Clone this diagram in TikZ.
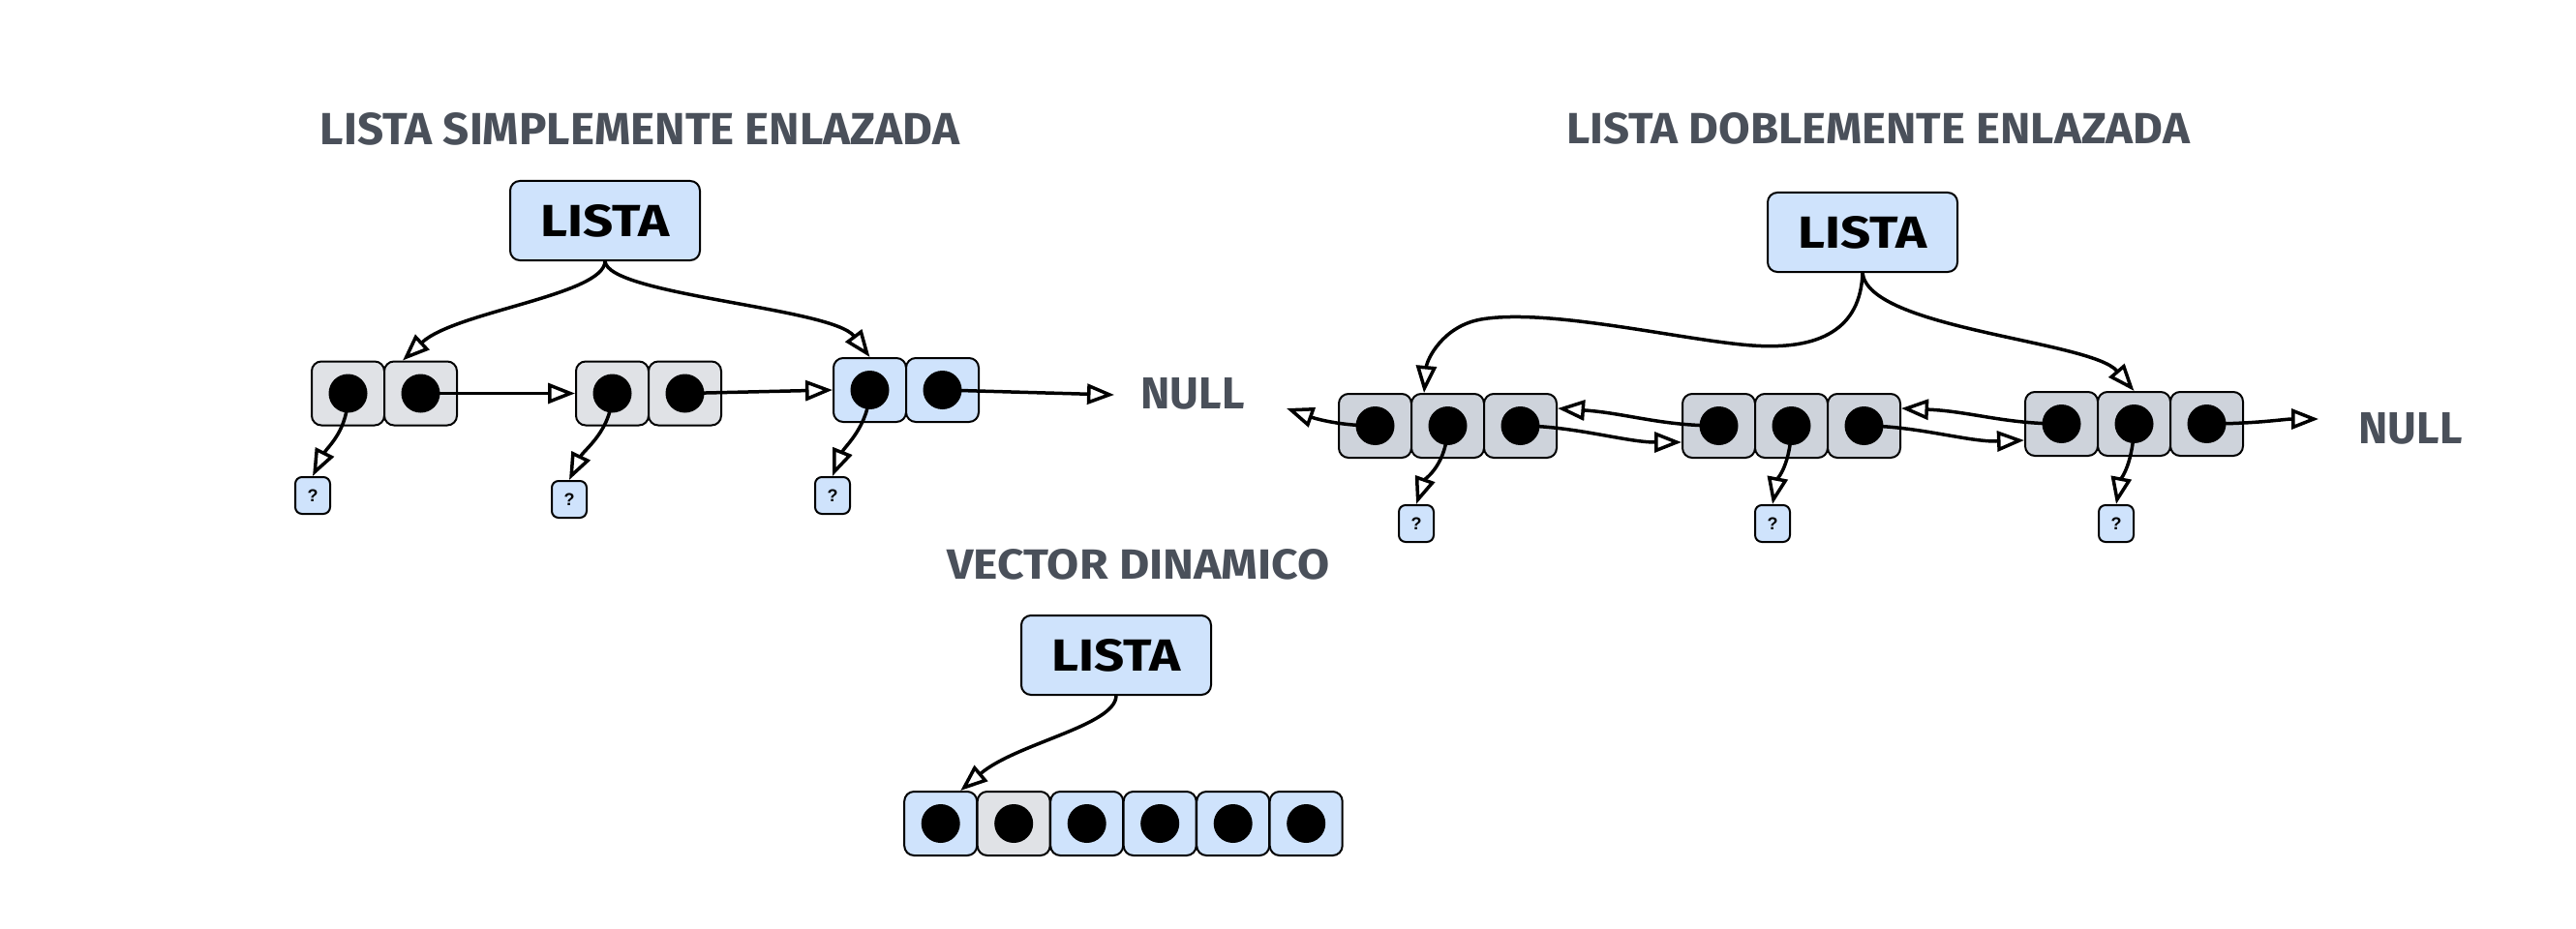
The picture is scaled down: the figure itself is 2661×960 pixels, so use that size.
\documentclass[tikz,border=0pt]{standalone}
\usepackage{fontspec}
\setmainfont{Fira Sans}
\newfontfamily\qfont{Liberation Sans}
\usetikzlibrary{arrows.meta}
\definecolor{ttl}{HTML}{4A505A}
\definecolor{bluef}{HTML}{CFE3FC}
\definecolor{grayA}{HTML}{E0E2E6}
\definecolor{grayB}{HTML}{CED3DB}
\begin{document}
\begin{tikzpicture}[x=1pt,y=-1pt,
 cell/.style={draw=black, line width=2pt, rounded corners=10pt, minimum width=75pt, minimum height=66pt, inner sep=0pt},
 cellg/.style={cell, fill=grayA},
 celld/.style={cell, fill=grayB},
 cellb/.style={cell, fill=bluef},
 dotc/.style={circle, fill=black, minimum size=40pt, inner sep=0pt},
 qbox/.style={draw, line width=2pt, rounded corners=7pt, fill=bluef, minimum width=36pt, minimum height=38pt, inner sep=0pt, font=\qfont\bfseries\fontsize{18}{18}\selectfont},
 lbox/.style={draw, line width=2pt, rounded corners=10pt, fill=bluef, minimum width=196pt, minimum height=82pt, inner sep=0pt},
 ttltext/.style={text=ttl, inner sep=0pt},
 ptr/.style={line width=3.5pt, -{Triangle[open,length=28pt,width=21pt]}},
]
\useasboundingbox (0,0) rectangle (2661,960);

% ---------- titles ----------
\node[ttltext] (t1) at (661,133) {\resizebox{660pt}{33pt}{\bfseries LISTA SIMPLEMENTE ENLAZADA}};
\node[ttltext] (t2) at (1940,133) {\resizebox{644pt}{32pt}{\bfseries LISTA DOBLEMENTE ENLAZADA}};
\node[ttltext] (t3) at (1176,583) {\resizebox{395pt}{31pt}{\bfseries VECTOR DINAMICO}};

% ---------- LISTA boxes ----------
\node[lbox] (L1) at (625,228) {\resizebox{133pt}{33pt}{\bfseries LISTA}};
\node[lbox] (L2) at (1924,240) {\resizebox{133pt}{33pt}{\bfseries LISTA}};
\node[lbox] (L3) at (1153,677) {\resizebox{133pt}{33pt}{\bfseries LISTA}};

% ---------- singly linked ----------
\node[cellg] (a1) at (359.5,406.5) {};
\node[cellg] (a2) at (434.5,406.5) {};
\node[cellg] (b1) at (632.5,406.5) {};
\node[cellg] (b2) at (707.5,406.5) {};
\node[cellb] (c1) at (898.5,403) {};
\node[cellb] (c2) at (973.5,403) {};
\foreach \n in {a1,a2,b1,b2,c1,c2} { \node[dotc] (\n d) at (\n) {}; }
\node[qbox] (q1) at (323,512) {?};
\node[qbox] (q2) at (588,516) {?};
\node[qbox] (q3) at (860,512) {?};
\node[ttltext] (null1) at (1232,407) {\resizebox{107pt}{32pt}{\bfseries NULL}};
\coordinate (n1tip) at (1151,408);

\draw[ptr] (a2.center) -- (b1.west);
\draw[ptr] (b2.center) -- (c1.west);
\draw[ptr] (c2.center) -- (n1tip);
\draw[ptr] (L1.south) .. controls (624,305) and (470,322) .. ([xshift=20pt]a2.north west);
\draw[ptr] (L1.south) .. controls (628,305) and (860,318) .. (c1.north);
\draw[ptr] (a1.center) .. controls (360,445) and (338,462) .. (q1.north);
\draw[ptr] (b1.center) .. controls (632,445) and (603,465) .. (q2.north);
\draw[ptr] (c1.center) .. controls (898,440) and (872,462) .. (q3.north);

% ---------- doubly linked ----------
\node[celld] (p1) at (1420.5,440) {};
\node[celld] (p2) at (1495.5,440) {};
\node[celld] (p3) at (1570.5,440) {};
\node[celld] (r1) at (1775.5,440) {};
\node[celld] (r2) at (1850.5,440) {};
\node[celld] (r3) at (1925.5,440) {};
\node[celld] (s1) at (2129.5,438) {};
\node[celld] (s2) at (2204.5,438) {};
\node[celld] (s3) at (2279.5,438) {};
\foreach \n in {p1,p2,p3,r1,r2,r3,s1,s2,s3} { \node[dotc] (\n d) at (\n) {}; }
\node[qbox] (q4) at (1463,541) {?};
\node[qbox] (q5) at (1831,541) {?};
\node[qbox] (q6) at (2186,541) {?};
\node[ttltext] (null2) at (2490,443) {\resizebox{107pt}{32pt}{\bfseries NULL}};
\coordinate (lt) at (1329,422);
\coordinate (n2tip) at (2395,433);

\draw[ptr] (p1.center) .. controls (1385,440) and (1360,433) .. (lt);
\draw[ptr] (p3.center) .. controls (1625,440) and (1680,457) .. ([yshift=-17pt]r1.west);
\draw[ptr] (r1.center) .. controls (1715,440) and (1680,427) .. ([yshift=18pt]p3.east);
\draw[ptr] (r3.center) .. controls (1980,440) and (2034,457) .. ([yshift=-17pt]s1.west);
\draw[ptr] (s1.center) .. controls (2070,438) and (2035,425) .. ([yshift=18pt]r3.east);
\draw[ptr] (s3.center) .. controls (2330,438) and (2360,433) .. (n2tip);
\draw[ptr] (L2.south) .. controls (1922,340) and (1880,362) .. (1810,357)
   .. controls (1740,352) and (1600,318) .. (1530,330)
   .. controls (1490,337) and (1474,372) .. ([xshift=14pt]p2.north west);
\draw[ptr] (L2.south) .. controls (1930,340) and (2160,352) .. (s2.north);
\draw[ptr] (p2.center) .. controls (1495,480) and (1472,495) .. (q4.north);
\draw[ptr] (r2.center) .. controls (1850,480) and (1836,495) .. (q5.north);
\draw[ptr] (s2.center) .. controls (2204,478) and (2191,495) .. (q6.north);

% ---------- vector ----------
\node[cellb] (v1) at (971.7,851) {};
\node[cellg] (v2) at (1047.2,851) {};
\node[cellb] (v3) at (1122.7,851) {};
\node[cellb] (v4) at (1198.2,851) {};
\node[cellb] (v5) at (1273.7,851) {};
\node[cellb] (v6) at (1349.2,851) {};
\foreach \n in {v1,v2,v3,v4,v5,v6} { \node[dotc] (\n d) at (\n) {}; }
\draw[ptr] (L3.south) .. controls (1152,750) and (1050,768) .. ([xshift=-18pt]v1.north east);
\end{tikzpicture}
\end{document}
